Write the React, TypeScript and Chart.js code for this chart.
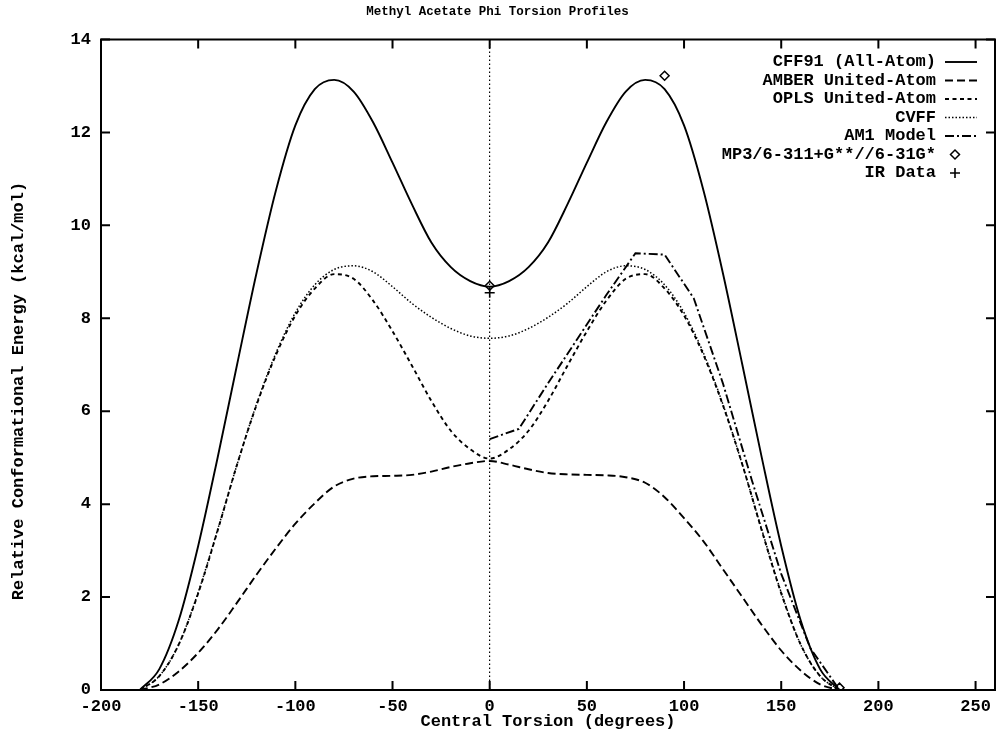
import React, { useEffect, useRef } from 'react';
import { Chart, registerables } from 'chart.js';

Chart.register(...registerables);

const FONT = "'Liberation Mono', 'DejaVu Sans Mono', monospace";

const chartTitle = 'Methyl Acetate Phi Torsion Profiles';
const xAxisTitle = 'Central Torsion (degrees)';
const yAxisTitle = 'Relative Conformational Energy (kcal/mol)';

const torsion = [-180, -170, -160, -150, -140, -130, -120, -110, -100, -90, -80, -70, -60, -50, -40, -30, -20, -10, 0,
  10, 20, 30, 40, 50, 60, 70, 80, 90, 100, 110, 120, 130, 140, 150, 160, 170, 180];

const cff91 = [0, 0.45, 1.5, 3.1, 5.0, 7.0, 8.97, 10.75, 12.15, 12.93, 13.13, 12.88, 12.22, 11.35, 10.45, 9.63, 9.1, 8.8, 8.68,
  8.8, 9.1, 9.63, 10.45, 11.35, 12.22, 12.88, 13.13, 12.93, 12.15, 10.75, 8.97, 7.0, 5.0, 3.1, 1.5, 0.45, 0];

const amber = [0, 0.12, 0.4, 0.8, 1.3, 1.88, 2.48, 3.05, 3.58, 4.02, 4.38, 4.55, 4.6, 4.61, 4.63, 4.7, 4.8, 4.88, 4.93,
  4.85, 4.75, 4.67, 4.64, 4.63, 4.62, 4.58, 4.46, 4.15, 3.7, 3.2, 2.6, 2.0, 1.4, 0.85, 0.42, 0.12, 0];

const opls = [0, 0.3, 0.98, 2.08, 3.43, 4.85, 6.13, 7.21, 8.06, 8.64, 8.95, 8.85, 8.38, 7.72, 6.98, 6.22, 5.58, 5.18, 4.98,
  5.18, 5.58, 6.22, 6.98, 7.72, 8.38, 8.85, 8.95, 8.64, 8.06, 7.21, 6.13, 4.85, 3.43, 2.08, 0.98, 0.3, 0];

const cvff = [0, 0.3, 0.98, 2.1, 3.45, 4.85, 6.15, 7.25, 8.12, 8.72, 9.05, 9.13, 9.0, 8.68, 8.32, 8.02, 7.78, 7.62, 7.57,
  7.62, 7.78, 8.02, 8.32, 8.68, 9.0, 9.13, 9.05, 8.72, 8.12, 7.25, 6.15, 4.85, 3.45, 2.1, 0.98, 0.3, 0];

const am1Torsion = [0, 15, 30, 45, 60, 75, 90, 105, 120, 135, 150, 165, 180];
const am1 = [5.4, 5.62, 6.6, 7.55, 8.5, 9.4, 9.37, 8.43, 6.6, 4.5, 2.5, 0.9, 0];

const mp3Torsion = [0, 90, 180];
const mp3 = [8.7, 13.22, 0.05];

const irTorsion = [0];
const ir = [8.55];

const xTicks = [-200, -150, -100, -50, 0, 50, 100, 150, 200, 250];
const yTicks = [0, 2, 4, 6, 8, 10, 12, 14];

const pts = (xs: number[], ys: number[]) => xs.map((x, i) => ({ x, y: ys[i] }));

const legendPlugin = {
  id: 'gpLegend',
  afterDatasetsDraw(chart: any) {
    const ctx = chart.ctx;
    ctx.save();
    ctx.font = `bold 17px ${FONT}`;
    ctx.fillStyle = '#000';
    ctx.strokeStyle = '#000';
    ctx.textAlign = 'right';
    ctx.textBaseline = 'middle';
    chart.data.datasets.forEach((ds: any, i: number) => {
      const y = 62 + i * 18.5;
      ctx.fillText(ds.label, 936, y);
      if (ds.showLine === false) {
        ctx.setLineDash([]);
        ctx.lineWidth = ds.borderWidth;
        ctx.beginPath();
        const cx = 955;
        const r = ds.pointRadius;
        if (ds.pointStyle === 'rectRot') {
          ctx.moveTo(cx - r, y);
          ctx.lineTo(cx, y - r);
          ctx.lineTo(cx + r, y);
          ctx.lineTo(cx, y + r);
          ctx.closePath();
        } else {
          ctx.moveTo(cx - r, y);
          ctx.lineTo(cx + r, y);
          ctx.moveTo(cx, y - r);
          ctx.lineTo(cx, y + r);
        }
        ctx.stroke();
      } else {
        ctx.setLineDash(ds.borderDash || []);
        ctx.lineWidth = ds.borderWidth;
        ctx.beginPath();
        ctx.moveTo(945, y);
        ctx.lineTo(977, y);
        ctx.stroke();
        ctx.setLineDash([]);
      }
    });
    ctx.restore();
  },
};

const framePlugin = {
  id: 'gpFrame',
  afterDraw(chart: any) {
    const ctx = chart.ctx;
    const { left, right, top, bottom } = chart.chartArea;
    const xs = chart.scales.x;
    const ys = chart.scales.y;
    ctx.save();
    ctx.strokeStyle = '#000';
    ctx.lineWidth = 2;
    ctx.setLineDash([]);
    ctx.strokeRect(left, top, right - left, bottom - top);
    ctx.beginPath();
    const tl = 9;
    xs.ticks.forEach((t: any) => {
      const px = xs.getPixelForValue(t.value);
      ctx.moveTo(px, bottom);
      ctx.lineTo(px, bottom - tl);
      ctx.moveTo(px, top);
      ctx.lineTo(px, top + tl);
    });
    ys.ticks.forEach((t: any) => {
      const py = ys.getPixelForValue(t.value);
      ctx.moveTo(left, py);
      ctx.lineTo(left + tl, py);
      ctx.moveTo(right, py);
      ctx.lineTo(right - tl, py);
    });
    ctx.stroke();
    ctx.font = `bold 17px ${FONT}`;
    ctx.fillStyle = '#000';
    ctx.textAlign = 'center';
    ctx.textBaseline = 'middle';
    ctx.translate(19, 391);
    ctx.rotate(-Math.PI / 2);
    ctx.fillText(yAxisTitle, 0, 0);
    ctx.restore();
  },
};

export default function App() {
  const ref = useRef<HTMLCanvasElement | null>(null);

  useEffect(() => {
    if (!ref.current) return;
    const chart = new Chart(ref.current, {
      type: 'line',
      data: {
        datasets: [
          {
            label: 'CFF91 (All-Atom)',
            data: pts(torsion, cff91),
            borderColor: '#000',
            borderWidth: 1.9,
            borderDash: [],
            pointRadius: 0,
            cubicInterpolationMode: 'monotone',
            fill: false,
          },
          {
            label: 'AMBER United-Atom',
            data: pts(torsion, amber),
            borderColor: '#000',
            borderWidth: 1.9,
            borderDash: [8, 4],
            pointRadius: 0,
            cubicInterpolationMode: 'monotone',
            fill: false,
          },
          {
            label: 'OPLS United-Atom',
            data: pts(torsion, opls),
            borderColor: '#000',
            borderWidth: 1.9,
            borderDash: [4, 3.5],
            pointRadius: 0,
            cubicInterpolationMode: 'monotone',
            fill: false,
          },
          {
            label: 'CVFF',
            data: pts(torsion, cvff),
            borderColor: '#000',
            borderWidth: 1.5,
            borderDash: [1.5, 2],
            pointRadius: 0,
            cubicInterpolationMode: 'monotone',
            fill: false,
          },
          {
            label: 'AM1 Model',
            data: pts(am1Torsion, am1),
            borderColor: '#000',
            borderWidth: 1.9,
            borderDash: [9, 3, 2, 3],
            pointRadius: 0,
            tension: 0,
            fill: false,
          },
          {
            label: 'MP3/6-311+G**//6-31G*',
            data: pts(mp3Torsion, mp3),
            showLine: false,
            pointStyle: 'rectRot',
            pointRadius: 4.5,
            borderWidth: 1.5,
            borderColor: '#000',
            backgroundColor: 'rgba(0,0,0,0)',
          },
          {
            label: 'IR Data',
            data: pts(irTorsion, ir),
            showLine: false,
            pointStyle: 'cross',
            pointRadius: 5,
            borderWidth: 1.6,
            borderColor: '#000',
            backgroundColor: '#000',
          },
        ] as any,
      },
      options: {
        animation: false,
        responsive: false,
        devicePixelRatio: 1,
        layout: { autoPadding: false, padding: { left: 0, right: 1, top: 0, bottom: 0 } },
        plugins: {
          legend: { display: false },
          tooltip: { enabled: false },
          title: {
            display: true,
            text: chartTitle,
            color: '#000',
            font: { family: FONT, size: 12.5, weight: 'bold' },
            padding: { top: 4, bottom: 20.5 },
          },
        },
        scales: {
          x: {
            type: 'linear',
            min: -200,
            max: 260,
            afterBuildTicks: (scale: any) => {
              scale.ticks = xTicks.map((v) => ({ value: v }));
            },
            afterFit: (scale: any) => {
              scale.height = 44;
              scale.paddingLeft = 0;
              scale.paddingRight = 0;
            },
            ticks: {
              color: '#000',
              padding: 7,
              font: { family: FONT, size: 17, weight: 'bold' },
              callback: (v: any) => String(v),
              maxRotation: 0,
            },
            grid: {
              drawTicks: false,
              lineWidth: 1.2,
              color: (c: any) => (c.tick && c.tick.value === 0 ? '#000' : 'rgba(0,0,0,0)'),
            },
            border: { display: false, dash: [1.5, 2.5] },
            title: {
              display: true,
              text: xAxisTitle,
              color: '#000',
              font: { family: FONT, size: 17, weight: 'bold' },
              padding: { top: 0, bottom: 2 },
            },
          },
          y: {
            type: 'linear',
            min: 0,
            max: 14,
            afterBuildTicks: (scale: any) => {
              scale.ticks = yTicks.map((v) => ({ value: v }));
            },
            afterFit: (scale: any) => {
              scale.width = 101;
              scale.paddingTop = 0;
              scale.paddingBottom = 0;
            },
            ticks: {
              color: '#000',
              padding: 10,
              font: { family: FONT, size: 17, weight: 'bold' },
              callback: (v: any) => String(v),
            },
            grid: { display: false, drawTicks: false },
            border: { display: false },
          },
        },
      } as any,
      plugins: [legendPlugin, framePlugin],
    });
    return () => chart.destroy();
  }, []);

  return (
    <div style={{ position: 'absolute', left: 0, top: 0, width: 996, height: 734, background: '#fff' }}>
      <canvas ref={ref} width={996} height={734} style={{ display: 'block', width: 996, height: 734 }} />
    </div>
  );
}
